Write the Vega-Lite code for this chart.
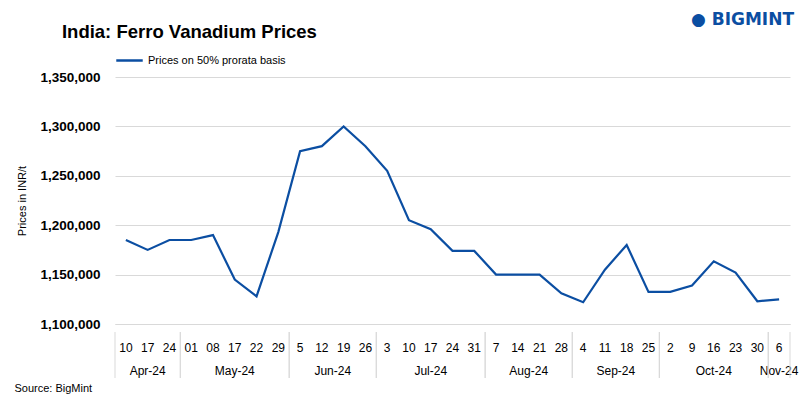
{
  "$schema": "https://vega.github.io/schema/vega-lite/v6.json",
  "padding": {"left": 14, "top": 10, "right": 5, "bottom": 5},
  "background": "white",
  "config": {"font": "Liberation Sans", "view": {"stroke": null}, "concat": {"spacing": 0}},
  "title": {"text": "● BIGMINT", "anchor": "end", "frame": "group", "dx": 4, "font": "DejaVu Sans", "fontSize": 17, "fontWeight": "bold", "color": "#0B4EA2", "dy": 10},
  "datasets": {
    "weeks": [
      {"i": 0, "day": "10", "price": 1185000},
      {"i": 1, "day": "17", "price": 1175000},
      {"i": 2, "day": "24", "price": 1185000},
      {"i": 3, "day": "01", "price": 1185000},
      {"i": 4, "day": "08", "price": 1190000},
      {"i": 5, "day": "17", "price": 1145000},
      {"i": 6, "day": "22", "price": 1128000},
      {"i": 7, "day": "29", "price": 1193000},
      {"i": 8, "day": "5", "price": 1275000},
      {"i": 9, "day": "12", "price": 1280000},
      {"i": 10, "day": "19", "price": 1300000},
      {"i": 11, "day": "26", "price": 1280000},
      {"i": 12, "day": "3", "price": 1255000},
      {"i": 13, "day": "10", "price": 1205000},
      {"i": 14, "day": "17", "price": 1196000},
      {"i": 15, "day": "24", "price": 1174000},
      {"i": 16, "day": "31", "price": 1174000},
      {"i": 17, "day": "7", "price": 1150000},
      {"i": 18, "day": "14", "price": 1150000},
      {"i": 19, "day": "21", "price": 1150000},
      {"i": 20, "day": "28", "price": 1131000},
      {"i": 21, "day": "4", "price": 1122000},
      {"i": 22, "day": "11", "price": 1155000},
      {"i": 23, "day": "18", "price": 1180000},
      {"i": 24, "day": "25", "price": 1132500},
      {"i": 25, "day": "2", "price": 1132500},
      {"i": 26, "day": "9", "price": 1139000},
      {"i": 27, "day": "16", "price": 1163500},
      {"i": 28, "day": "23", "price": 1152000},
      {"i": 29, "day": "30", "price": 1123000},
      {"i": 30, "day": "6", "price": 1125000}
    ],
    "months": [
      {"month": "Apr-24", "first": 0, "last": 2},
      {"month": "May-24", "first": 3, "last": 7},
      {"month": "Jun-24", "first": 8, "last": 11},
      {"month": "Jul-24", "first": 12, "last": 16},
      {"month": "Aug-24", "first": 17, "last": 20},
      {"month": "Sep-24", "first": 21, "last": 24},
      {"month": "Oct-24", "first": 25, "last": 29},
      {"month": "Nov-24", "first": 30, "last": 30}
    ]
  },
  "vconcat": [
    {
      "width": 675,
      "height": 247,
      "title": {"text": "India: Ferro Vanadium Prices", "anchor": "start", "dx": 45, "fontSize": 18.5, "fontWeight": "bold", "color": "#000000", "offset": 29},
      "data": {"name": "weeks"},
      "mark": {"type": "line", "strokeWidth": 2.2},
      "encoding": {
        "x": {"field": "i", "type": "quantitative", "scale": {"domain": [-0.5, 30.5], "nice": false, "zero": false},
          "axis": {"labels": false, "ticks": false, "grid": false, "title": null, "domainColor": "#d9d9d9", "domainWidth": 1}},
        "y": {"field": "price", "type": "quantitative", "scale": {"domain": [1100000, 1350000], "nice": false, "zero": false},
          "axis": {"values": [1100000, 1150000, 1200000, 1250000, 1300000, 1350000], "format": ",d", "grid": true, "gridColor": "#d9d9d9", "domain": false, "ticks": false,
            "labelFontWeight": "bold", "labelFontSize": 13.5, "labelColor": "#000000", "labelPadding": 15,
            "title": "Prices in INR/t", "titleFontWeight": "normal", "titleFontSize": 11, "titleColor": "#000000", "titlePadding": 12}},
        "color": {"datum": "Prices on 50% prorata basis", "type": "nominal", "scale": {"range": ["#0B4EA2"]},
          "legend": {"orient": "none", "legendX": 0, "legendY": -31, "title": null, "symbolType": "stroke", "symbolSize": 700, "symbolStrokeWidth": 2.5, "labelFontSize": 11, "labelColor": "#000000", "padding": 0}}
      }
    },
    {
      "width": 675,
      "height": 46,
      "title": {"text": "Source: BigMint", "orient": "bottom", "anchor": "start", "dx": -100, "fontSize": 11, "fontWeight": "normal", "color": "#000000", "offset": 4},
      "layer": [
        {
          "data": {"name": "weeks"},
          "mark": {"type": "text", "fontSize": 12, "color": "#000000", "dy": 4},
          "encoding": {
            "x": {"field": "i", "type": "quantitative", "scale": {"domain": [-0.5, 30.5], "nice": false, "zero": false}, "axis": null},
            "y": {"datum": "d", "type": "nominal", "scale": {"type": "band", "domain": ["d", "m"], "paddingInner": 0, "paddingOuter": 0}, "axis": null},
            "text": {"field": "day"}
          }
        },
        {
          "data": {"name": "months"},
          "transform": [{"calculate": "(datum.first + datum.last) / 2", "as": "mid"}],
          "mark": {"type": "text", "fontSize": 12, "color": "#000000", "dy": 4},
          "encoding": {
            "x": {"field": "mid", "type": "quantitative"},
            "y": {"datum": "m", "type": "nominal"},
            "text": {"field": "month"}
          }
        },
        {
          "data": {"name": "months"},
          "transform": [{"calculate": "datum.first - 0.5", "as": "lo"}],
          "mark": {"type": "rule", "color": "#d9d9d9", "strokeWidth": 1},
          "encoding": {"x": {"field": "lo", "type": "quantitative"}}
        },
        {
          "data": {"name": "months"},
          "transform": [{"calculate": "datum.last + 0.5", "as": "hi"}],
          "mark": {"type": "rule", "color": "#d9d9d9", "strokeWidth": 1},
          "encoding": {"x": {"field": "hi", "type": "quantitative"}}
        }
      ]
    }
  ]
}
